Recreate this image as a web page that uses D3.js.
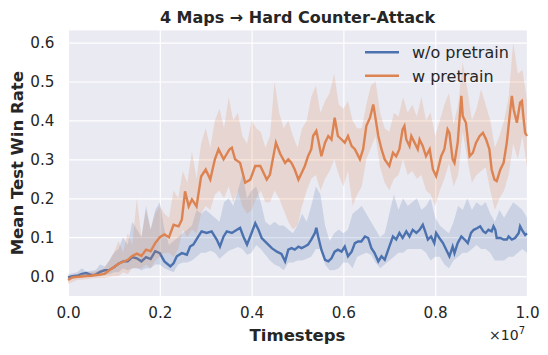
<!DOCTYPE html>
<html>
<head>
<meta charset="utf-8">
<script src="https://d3js.org/d3.v7.min.js"></script>
<style>
  body { margin: 0; background: #fff; }
  text { font-family: "DejaVu Sans", sans-serif; fill: #262626; }
  .grid line { stroke: #fff; stroke-width: 1.2; }
  .grid .domain { display: none; }
</style>
</head>
<body>
<svg width="548" height="355"></svg>
<script>
// values (timesteps in units of 1e7)
var woX = [0,0.01,0.02,0.03,0.04,0.05,0.06,0.07,0.08,0.09,0.10,0.11,0.12,0.13,0.14,0.15,0.16,0.17,0.18,0.19,0.20,0.21,0.223,0.23,0.237,0.248,0.259,0.266,0.273,0.284,0.291,0.302,0.313,0.324,0.331,0.339,0.346,0.357,0.368,0.375,0.382,0.39,0.397,0.408,0.415,0.422,0.433,0.444,0.455,0.465,0.473,0.48,0.487,0.494,0.502,0.509,0.516,0.523,0.53,0.538,0.541,0.545,0.552,0.56,0.567,0.574,0.581,0.588,0.596,0.603,0.61,0.618,0.625,0.632,0.639,0.647,0.654,0.661,0.668,0.676,0.683,0.69,0.70,0.708,0.715,0.722,0.729,0.737,0.744,0.751,0.759,0.766,0.773,0.777,0.784,0.791,0.798,0.802,0.809,0.817,0.824,0.831,0.838,0.842,0.849,0.857,0.864,0.871,0.878,0.884,0.891,0.898,0.905,0.91,0.916,0.923,0.927,0.931,0.934,0.942,0.949,0.956,0.96,0.967,0.974,0.982,0.985,0.989,0.996,1.0];
var woMean = [-0.003,0.0,0.001,0.006,0.008,0.003,0.004,0.011,0.015,0.016,0.023,0.032,0.038,0.038,0.049,0.046,0.038,0.049,0.044,0.064,0.059,0.038,0.025,0.033,0.051,0.059,0.055,0.076,0.081,0.102,0.115,0.111,0.115,0.094,0.076,0.102,0.115,0.111,0.119,0.124,0.102,0.081,0.102,0.136,0.119,0.098,0.085,0.072,0.063,0.057,0.038,0.068,0.072,0.068,0.076,0.072,0.076,0.081,0.094,0.111,0.124,0.102,0.068,0.042,0.038,0.046,0.063,0.068,0.063,0.076,0.051,0.063,0.085,0.089,0.089,0.102,0.098,0.072,0.059,0.038,0.051,0.042,0.076,0.102,0.094,0.111,0.098,0.115,0.102,0.119,0.111,0.119,0.132,0.119,0.094,0.102,0.085,0.111,0.098,0.085,0.068,0.051,0.076,0.059,0.085,0.102,0.094,0.085,0.111,0.119,0.123,0.128,0.115,0.111,0.119,0.115,0.128,0.119,0.098,0.098,0.094,0.094,0.102,0.094,0.098,0.111,0.128,0.119,0.106,0.11];

var wX = [0,0.01,0.02,0.03,0.04,0.05,0.06,0.07,0.08,0.09,0.10,0.11,0.12,0.13,0.14,0.15,0.16,0.17,0.18,0.19,0.20,0.21,0.22,0.23,0.241,0.248,0.255,0.263,0.27,0.28,0.29,0.30,0.31,0.32,0.328,0.339,0.352,0.357,0.364,0.375,0.386,0.397,0.408,0.419,0.433,0.44,0.453,0.462,0.473,0.48,0.487,0.494,0.502,0.509,0.516,0.523,0.53,0.534,0.541,0.545,0.552,0.56,0.567,0.574,0.581,0.588,0.596,0.603,0.61,0.618,0.625,0.636,0.643,0.65,0.658,0.665,0.668,0.676,0.683,0.69,0.70,0.708,0.715,0.722,0.729,0.733,0.737,0.744,0.748,0.755,0.762,0.766,0.773,0.78,0.788,0.795,0.802,0.806,0.813,0.82,0.827,0.831,0.838,0.842,0.849,0.857,0.86,0.867,0.875,0.882,0.889,0.897,0.904,0.911,0.918,0.923,0.929,0.934,0.942,0.949,0.956,0.963,0.967,0.971,0.978,0.985,0.989,0.992,0.996,1.0];
var wMean = [-0.01,-0.003,-0.002,-0.001,0.0,0.001,0.003,0.004,0.006,0.015,0.023,0.032,0.037,0.042,0.052,0.058,0.052,0.068,0.064,0.085,0.10,0.107,0.10,0.132,0.128,0.145,0.218,0.179,0.197,0.179,0.256,0.274,0.248,0.30,0.326,0.30,0.326,0.33,0.30,0.291,0.24,0.248,0.283,0.283,0.248,0.261,0.343,0.315,0.291,0.30,0.291,0.274,0.248,0.265,0.283,0.308,0.326,0.36,0.373,0.351,0.308,0.343,0.36,0.351,0.407,0.36,0.351,0.343,0.36,0.334,0.326,0.30,0.326,0.386,0.407,0.441,0.42,0.36,0.326,0.30,0.283,0.317,0.308,0.326,0.377,0.386,0.351,0.334,0.36,0.343,0.326,0.351,0.334,0.308,0.326,0.274,0.257,0.274,0.308,0.326,0.377,0.368,0.30,0.291,0.343,0.463,0.411,0.394,0.308,0.317,0.343,0.36,0.368,0.351,0.326,0.274,0.248,0.244,0.274,0.291,0.343,0.42,0.463,0.428,0.394,0.446,0.45,0.411,0.368,0.36];

var woBandX = [0,0.02,0.03,0.04,0.06,0.07,0.08,0.09,0.10,0.11,0.12,0.13,0.14,0.15,0.16,0.17,0.18,0.19,0.20,0.21,0.22,0.23,0.24,0.25,0.26,0.27,0.28,0.29,0.30,0.31,0.32,0.33,0.34,0.35,0.36,0.37,0.38,0.39,0.40,0.41,0.42,0.43,0.44,0.45,0.46,0.47,0.48,0.49,0.50,0.51,0.52,0.53,0.54,0.55,0.56,0.57,0.58,0.59,0.60,0.61,0.62,0.63,0.64,0.65,0.66,0.67,0.68,0.69,0.70,0.71,0.72,0.73,0.74,0.75,0.76,0.77,0.78,0.79,0.80,0.81,0.82,0.83,0.84,0.85,0.86,0.87,0.88,0.89,0.90,0.91,0.92,0.93,0.94,0.95,0.96,0.97,0.98,0.99,1.0];
var woHi = [0.005,0.01,0.02,0.012,0.015,0.03,0.025,0.04,0.06,0.07,0.10,0.08,0.14,0.12,0.10,0.18,0.12,0.17,0.19,0.12,0.08,0.09,0.10,0.11,0.12,0.13,0.17,0.16,0.17,0.16,0.15,0.14,0.19,0.20,0.18,0.22,0.26,0.20,0.22,0.23,0.19,0.14,0.13,0.14,0.13,0.13,0.12,0.11,0.13,0.16,0.14,0.18,0.23,0.21,0.13,0.09,0.11,0.12,0.11,0.12,0.16,0.17,0.18,0.16,0.14,0.12,0.10,0.11,0.16,0.21,0.17,0.20,0.18,0.19,0.20,0.17,0.18,0.20,0.15,0.13,0.12,0.11,0.14,0.18,0.17,0.20,0.17,0.19,0.18,0.19,0.16,0.14,0.17,0.15,0.17,0.19,0.18,0.17,0.15];
var woLo = [-0.01,-0.005,-0.003,0.0,-0.003,0.0,0.005,0.005,0.01,0.01,0.02,0.015,0.02,0.02,0.015,0.02,0.02,0.03,0.03,0.02,0.015,0.01,0.03,0.035,0.035,0.04,0.05,0.06,0.06,0.065,0.06,0.045,0.055,0.065,0.07,0.075,0.07,0.055,0.06,0.08,0.07,0.055,0.04,0.03,0.025,0.015,0.035,0.035,0.04,0.04,0.045,0.05,0.07,0.07,0.03,0.015,0.015,0.02,0.035,0.035,0.02,0.05,0.055,0.06,0.055,0.035,0.02,0.03,0.04,0.05,0.06,0.06,0.07,0.07,0.07,0.07,0.06,0.04,0.05,0.05,0.03,0.02,0.04,0.05,0.06,0.06,0.07,0.08,0.07,0.07,0.06,0.04,0.04,0.04,0.05,0.05,0.06,0.07,0.06];

var wBandX = [0,0.02,0.04,0.06,0.08,0.10,0.11,0.12,0.13,0.14,0.15,0.16,0.17,0.18,0.19,0.20,0.21,0.22,0.23,0.24,0.25,0.26,0.27,0.28,0.29,0.30,0.31,0.32,0.33,0.34,0.35,0.36,0.37,0.38,0.39,0.40,0.41,0.42,0.43,0.44,0.45,0.46,0.47,0.48,0.49,0.50,0.51,0.52,0.53,0.54,0.55,0.56,0.57,0.58,0.59,0.60,0.61,0.62,0.63,0.64,0.65,0.66,0.67,0.68,0.69,0.70,0.71,0.72,0.73,0.74,0.75,0.76,0.77,0.78,0.79,0.80,0.81,0.82,0.83,0.84,0.85,0.86,0.87,0.88,0.89,0.90,0.91,0.92,0.93,0.94,0.95,0.96,0.97,0.98,0.99,1.0];
var wHi = [0.0,0.005,0.008,0.012,0.02,0.06,0.09,0.06,0.11,0.08,0.20,0.10,0.17,0.12,0.16,0.18,0.16,0.15,0.22,0.20,0.27,0.24,0.32,0.25,0.34,0.38,0.33,0.40,0.43,0.38,0.46,0.40,0.42,0.36,0.34,0.40,0.38,0.37,0.33,0.36,0.50,0.42,0.38,0.40,0.36,0.33,0.38,0.40,0.46,0.49,0.42,0.45,0.47,0.52,0.44,0.43,0.45,0.40,0.38,0.38,0.44,0.49,0.50,0.42,0.38,0.37,0.42,0.41,0.46,0.42,0.44,0.41,0.46,0.40,0.42,0.36,0.40,0.44,0.47,0.39,0.44,0.55,0.48,0.40,0.43,0.48,0.44,0.40,0.33,0.36,0.40,0.46,0.60,0.52,0.53,0.45];
var wLo = [-0.02,-0.01,-0.008,-0.005,-0.005,0.0,0.0,0.01,0.005,0.02,0.02,0.02,0.03,0.02,0.04,0.05,0.06,0.06,0.05,0.07,0.12,0.10,0.12,0.11,0.16,0.18,0.17,0.21,0.22,0.20,0.23,0.19,0.22,0.18,0.16,0.17,0.20,0.22,0.19,0.19,0.22,0.20,0.17,0.14,0.12,0.13,0.18,0.22,0.25,0.26,0.22,0.25,0.27,0.30,0.26,0.23,0.27,0.18,0.21,0.23,0.30,0.33,0.36,0.28,0.24,0.22,0.25,0.26,0.30,0.26,0.27,0.25,0.26,0.22,0.21,0.18,0.22,0.25,0.29,0.23,0.26,0.37,0.30,0.24,0.26,0.27,0.28,0.22,0.17,0.20,0.22,0.26,0.34,0.30,0.36,0.28];

var xTicks = [0, 0.2, 0.4, 0.6, 0.8, 1.0];
var yTicks = [0, 0.1, 0.2, 0.3, 0.4, 0.5, 0.6];
var seriesNames = ["w/o pretrain", "w pretrain"];
var colors = ["#4C72B0", "#DD8452"];

var svg = d3.select("svg"),
    pL = 68, pR = 527, pT = 30.5, pB = 296;

var x = d3.scaleLinear().domain([0, 1]).range([pL, pR]);
var y = d3.scaleLinear().domain([-0.051, 0.631]).range([pB, pT]);

svg.append("rect")
  .attr("x", pL).attr("y", pT)
  .attr("width", pR - pL).attr("height", pB - pT)
  .attr("fill", "#EAEAF2");

// grid
svg.append("g").attr("class", "grid")
  .attr("transform", "translate(0," + pB + ")")
  .call(d3.axisBottom(x).tickValues(xTicks).tickSize(-(pB - pT)).tickFormat(""));
svg.append("g").attr("class", "grid")
  .attr("transform", "translate(" + pL + ",0)")
  .call(d3.axisLeft(y).tickValues(yTicks).tickSize(-(pR - pL)).tickFormat(""));

// tick labels
var xa = svg.append("g")
  .attr("transform", "translate(0," + pB + ")")
  .call(d3.axisBottom(x).tickValues(xTicks).tickSize(0).tickPadding(11.5).tickFormat(d3.format(".1f")));
var ya = svg.append("g")
  .attr("transform", "translate(" + pL + ",0)")
  .call(d3.axisLeft(y).tickValues(yTicks).tickSize(0).tickPadding(13.5).tickFormat(d3.format(".1f")));
[xa, ya].forEach(function(a) {
  a.select(".domain").remove();
  a.selectAll("text").attr("font-size", 15.2).attr("font-family", "DejaVu Sans").attr("fill", "#262626");
});

function pts(xs, ys) { return xs.map(function(d, i) { return [d, ys[i]]; }); }
function band(xs, lo, hi) { return xs.map(function(d, i) { return [d, lo[i], hi[i]]; }); }

var line = d3.line().x(function(d) { return x(d[0]); }).y(function(d) { return y(d[1]); });
var area = d3.area().x(function(d) { return x(d[0]); })
  .y0(function(d) { return y(d[1]); }).y1(function(d) { return y(d[2]); });

var plot = svg.append("g");

plot.append("path").datum(pts(woX, woMean)).attr("d", line)
  .attr("fill", "none").attr("stroke", colors[0]).attr("stroke-width", 2.4);
plot.append("path").datum(band(woBandX, woLo, woHi)).attr("d", area)
  .attr("fill", colors[0]).attr("fill-opacity", 0.2);
plot.append("path").datum(pts(wX, wMean)).attr("d", line)
  .attr("fill", "none").attr("stroke", colors[1]).attr("stroke-width", 2.4);
plot.append("path").datum(band(wBandX, wLo, wHi)).attr("d", area)
  .attr("fill", colors[1]).attr("fill-opacity", 0.2);

// legend
var lg = svg.append("g");
seriesNames.forEach(function(n, i) {
  var ly = 52.3 + i * 23.4;
  lg.append("line").attr("x1", 365).attr("x2", 399).attr("y1", ly).attr("y2", ly)
    .attr("stroke", colors[i]).attr("stroke-width", 2.4);
  lg.append("text").attr("x", 412).attr("y", ly + 5.8).attr("font-size", 16).text(n);
});

// titles
svg.append("text").attr("x", (pL + pR) / 2).attr("y", 23)
  .attr("text-anchor", "middle").attr("font-size", 16).attr("font-weight", "bold")
  .text("4 Maps \u2192 Hard Counter-Attack");
svg.append("text").attr("x", (pL + pR) / 2).attr("y", 341)
  .attr("text-anchor", "middle").attr("font-size", 16.5).attr("font-weight", "bold")
  .text("Timesteps");
svg.append("text")
  .attr("transform", "translate(22.5," + ((pT + pB) / 2) + ") rotate(-90)")
  .attr("text-anchor", "middle").attr("font-size", 16.5).attr("font-weight", "bold")
  .text("Mean Test Win Rate");

var off = svg.append("text").attr("x", pR - 2).attr("y", 339.5)
  .attr("text-anchor", "end").attr("font-size", 14);
off.append("tspan").text("\u00d710");
off.append("tspan").attr("dy", -6).attr("font-size", 10).text("7");
</script>
</body>
</html>
